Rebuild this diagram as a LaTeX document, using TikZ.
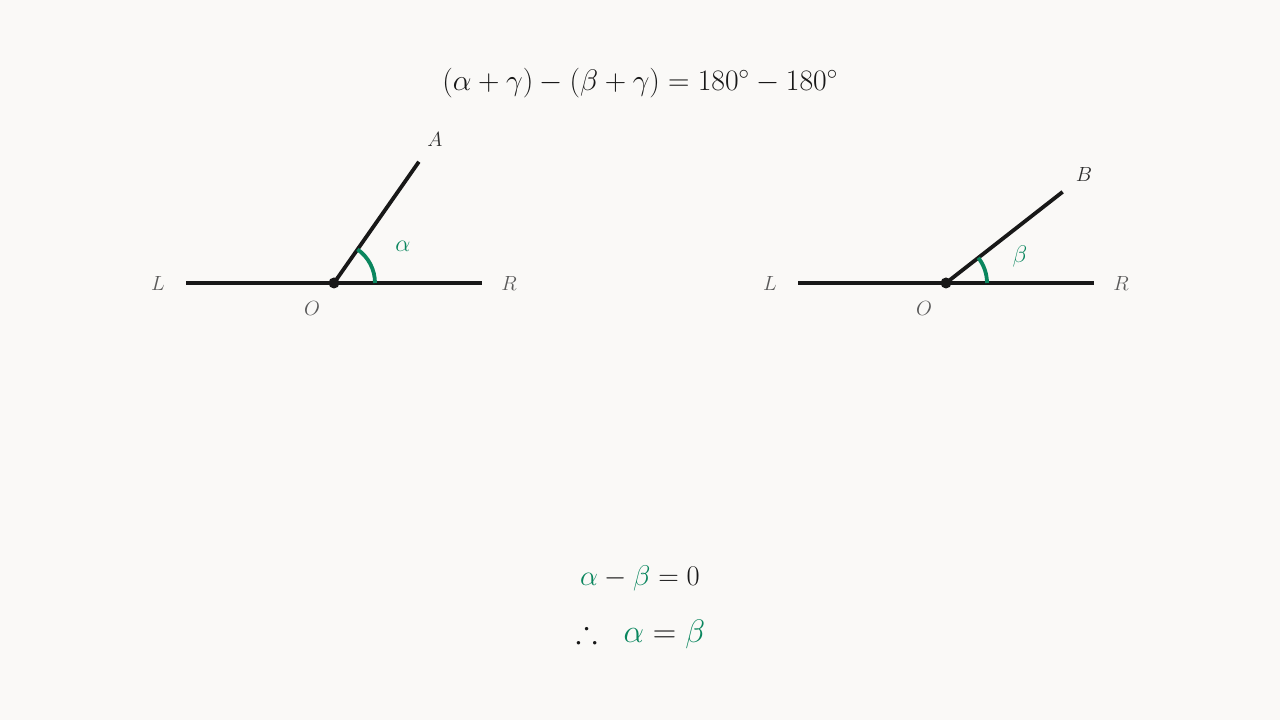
\documentclass[tikz,border=0pt]{standalone}
\usepackage{fix-cm}
\usepackage{amssymb}
\usetikzlibrary{calc}
\definecolor{bg}{RGB}{250,249,247}
\definecolor{ink}{RGB}{24,24,24}
\definecolor{grn}{RGB}{10,134,94}
\definecolor{lbl}{RGB}{90,90,90}
\definecolor{lbd}{RGB}{45,45,45}
\tikzset{
  ray/.style={draw=ink, line width=3.8pt},
  anglearc/.style={draw=grn, line width=3.8pt},
  ptlabel/.style={text=lbl, font=\fontsize{20.5}{24}\selectfont},
  endlabel/.style={text=lbd, font=\fontsize{20.5}{24}\selectfont},
  anglabel/.style={text=grn, font=\fontsize{24}{28}\selectfont},
  eqn/.style={text=ink, font=\fontsize{29.7}{36}\selectfont},
  eqnb/.style={text=ink, font=\fontsize{28.5}{34}\selectfont},
  eqnc/.style={text=ink, font=\fontsize{32.5}{38}\selectfont},
  dot/.style={circle, fill=ink, inner sep=0pt, minimum size=11pt}
}
\begin{document}
\begin{tikzpicture}[x=1pt,y=1pt]
\fill[bg] (0,0) rectangle (1280,720);
\useasboundingbox (0,0) rectangle (1280,720);

% top equation
\node[eqn] (top) at (640,637) {$(\alpha+\gamma)-(\beta+\gamma)=180^\circ-180^\circ$};

% left figure
\coordinate (O1) at (334,437);
\coordinate (L1) at (186,437);
\coordinate (R1) at (482,437);
\coordinate (A) at ($(O1)+(55:148)$);
\draw[ray] (L1) -- (R1);
\draw[ray] (O1) -- (A);
\draw[anglearc] ($(O1)+(41,0)$) arc[start angle=0, end angle=55, radius=41];
\node[dot] (o1dot) at (O1) {};
\node[ptlabel] (lL1) at (158,436) {$L$};
\node[ptlabel] (lR1) at (509,436) {$R$};
\node[ptlabel] (lO1) at (312,411) {$O$};
\node[endlabel] (lA) at (435,580) {$A$};
\node[anglabel] (alpha) at (403,474) {$\alpha$};

% right figure
\coordinate (O2) at (946,437);
\coordinate (L2) at (798,437);
\coordinate (R2) at (1094,437);
\coordinate (B) at ($(O2)+(38:148)$);
\draw[ray] (L2) -- (R2);
\draw[ray] (O2) -- (B);
\draw[anglearc] ($(O2)+(41,0)$) arc[start angle=0, end angle=38, radius=41];
\node[dot] (o2dot) at (O2) {};
\node[ptlabel] (lL2) at (770,436) {$L$};
\node[ptlabel] (lR2) at (1121,436) {$R$};
\node[ptlabel] (lO2) at (924,411) {$O$};
\node[endlabel] (lB) at (1084,545) {$B$};
\node[anglabel] (beta) at (1020,463) {$\beta$};

% bottom equations
\node[eqnb] (eq1) at (640,142) {$\textcolor{grn}{\alpha}-\textcolor{grn}{\beta}=0$};
\node[eqnc] (eq2) at (640.5,86) {$\therefore\hspace{17pt}\textcolor{grn}{\alpha}=\textcolor{grn}{\beta}$};
\end{tikzpicture}
\end{document}
